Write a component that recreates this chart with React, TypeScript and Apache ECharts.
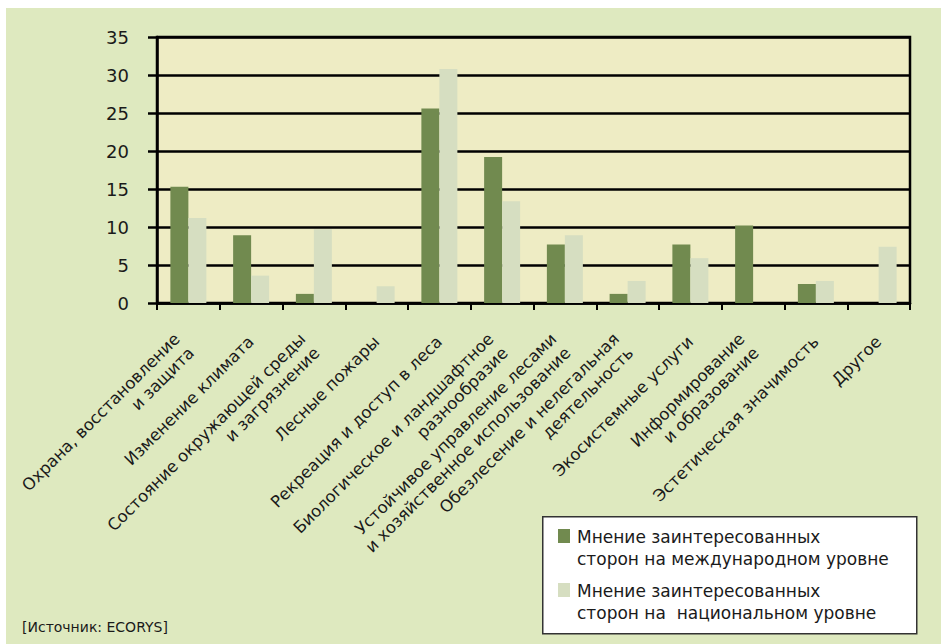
import React, { useEffect, useRef } from "react";
import * as echarts from "echarts";

const categories = [
  "Охрана, восстановление\nи защита",
  "Изменение климата",
  "Состояние окружающей среды\nи загрязнение",
  "Лесные пожары",
  "Рекреация и доступ в леса",
  "Биологическое и ландшафтное\nразнообразие",
  "Устойчивое управление лесами\nи хозяйственное использование",
  "Обезлесение и нелегальная\nдеятельность",
  "Экосистемные услуги",
  "Информирование\nи образование",
  "Эстетическая значимость",
  "Другое",
];

const seriesNames = [
  "Мнение заинтересованных\nсторон на международном уровне",
  "Мнение заинтересованных\nсторон на  национальном уровне",
];

const international = [15.3, 8.9, 1.2, 0, 25.6, 19.2, 7.7, 1.2, 7.7, 10.2, 2.5, 0];
const national = [11.2, 3.6, 9.7, 2.2, 30.8, 13.4, 8.9, 2.9, 5.9, 0, 2.9, 7.4];

const yTicks = { min: 0, max: 35, interval: 5 };
const sourceText = "[Источник: ECORYS]";

const DARK = "#718a4f";
const LIGHT = "#d6dec1";
const FONT = "DejaVu Sans";

export default function App() {
  const ref = useRef<HTMLDivElement>(null);

  useEffect(() => {
    document.body.style.margin = "0";
    if (!ref.current) return;
    const chart = echarts.init(ref.current, null, { renderer: "svg" });

    const legendGraphic: any[] = [
      {
        type: "rect",
        left: 536,
        top: 508,
        shape: { width: 374, height: 117 },
        style: { fill: "#ffffff", stroke: "#333333", lineWidth: 1.5 },
        z: 10,
      },
    ];
    const legendItems = [
      { color: DARK, y: 521, name: seriesNames[0] },
      { color: LIGHT, y: 575, name: seriesNames[1] },
    ];
    legendItems.forEach((it) => {
      legendGraphic.push({
        type: "rect",
        left: 552,
        top: it.y,
        shape: { width: 12, height: 14 },
        style: { fill: it.color },
        z: 11,
      });
      legendGraphic.push({
        type: "text",
        left: 571,
        top: it.y - 3,
        style: {
          text: it.name,
          fill: "#1a1a1a",
          font: `17px "${FONT}"`,
          lineHeight: 22,
        },
        z: 11,
      });
    });
    legendGraphic.push({
      type: "text",
      left: 16,
      top: 612,
      style: { text: sourceText, fill: "#1a1a1a", font: `14px "${FONT}"` },
    });

    const catData = categories.map((c) => ({
      value: c,
      textStyle: c.includes("\n") ? { padding: [0, 6, 0, 0] } : { padding: [0, 0, 6, 0] },
    }));

    chart.setOption({
      animation: false,
      backgroundColor: "#dee9bf",
      textStyle: { fontFamily: FONT },
      grid: {
        left: 151,
        right: 31,
        top: 29,
        bottom: 341,
        show: true,
        backgroundColor: "#eeecc4",
        borderColor: "#000000",
        borderWidth: 2.5,
      },
      xAxis: {
        type: "category",
        data: catData,
        boundaryGap: true,
        axisLine: { show: true, lineStyle: { color: "#000000", width: 2.5 } },
        axisTick: { show: true, length: 7, inside: false, lineStyle: { color: "#000000", width: 2 } },
        axisLabel: {
          interval: 0,
          rotate: 45,
          margin: 36,
          fontFamily: FONT,
          fontSize: 16.5,
          lineHeight: 20,
          color: "#1a1a1a",
        },
      },
      yAxis: {
        type: "value",
        min: yTicks.min,
        max: yTicks.max,
        interval: yTicks.interval,
        axisLine: { show: true, lineStyle: { color: "#000000", width: 2.5 } },
        axisTick: { show: true, length: 9, lineStyle: { color: "#000000", width: 2.5 } },
        axisLabel: { margin: 28, fontFamily: FONT, fontSize: 18, color: "#1a1a1a" },
        splitLine: { show: true, lineStyle: { color: "#000000", width: 2.5 } },
      },
      series: [
        {
          name: seriesNames[0],
          type: "bar",
          data: international,
          barWidth: 18,
          barGap: "0%",
          itemStyle: { color: DARK },
        },
        {
          name: seriesNames[1],
          type: "bar",
          data: national,
          barWidth: 18,
          barGap: "0%",
          itemStyle: { color: LIGHT },
        },
      ],
      graphic: legendGraphic,
    });

    return () => chart.dispose();
  }, []);

  return (
    <div style={{ width: 941, height: 644, position: "relative", background: "#ffffff", overflow: "hidden" }}>
      <div
        ref={ref}
        style={{ position: "absolute", left: 6, top: 8, width: 935, height: 636 }}
      />
    </div>
  );
}
